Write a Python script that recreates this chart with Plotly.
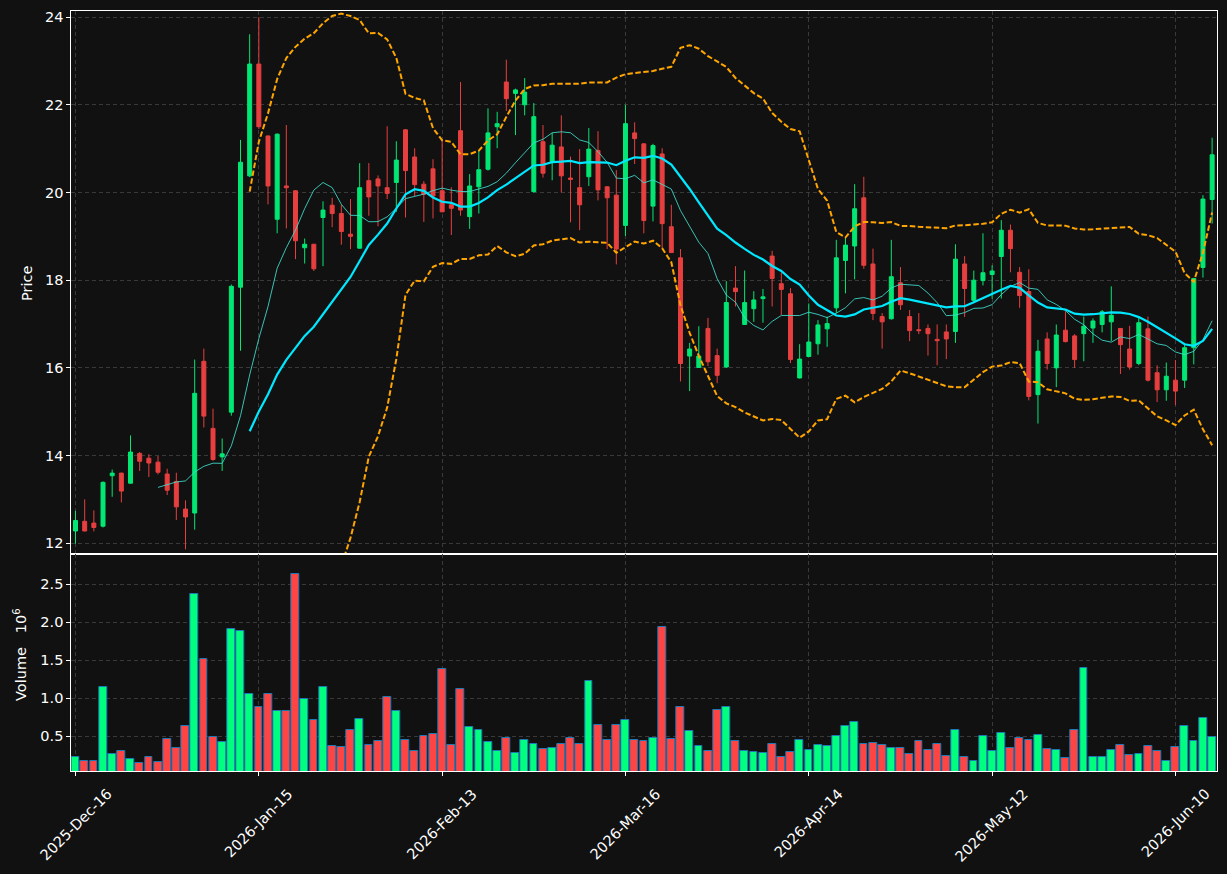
import pandas as pd
import plotly.graph_objects as go

# ---------------- data ----------------
tick_labels = ["2025-Dec-16", "2026-Jan-15", "2026-Feb-13", "2026-Mar-16",
               "2026-Apr-14", "2026-May-12", "2026-Jun-10"]

opens = [12.28, 12.50, 12.46, 12.39, 13.54, 13.60, 13.37, 14.05, 13.94, 13.85,
         13.58, 13.41, 12.78, 12.69, 16.15, 14.62, 13.97, 14.99, 17.84, 20.38,
         22.93, 21.29, 19.39, 20.15, 20.04, 18.74, 18.82, 19.43, 19.71, 19.52,
         19.05, 18.73, 20.27, 20.31, 20.11, 20.23, 21.43, 20.81, 20.19, 20.54,
         20.04, 19.72, 21.41, 19.45, 20.13, 20.53, 21.50, 22.52, 22.26, 22.00,
         20.02, 21.16, 20.71, 21.04, 20.33, 20.11, 20.36, 20.96, 20.13, 19.94,
         19.25, 21.36, 21.11, 19.69, 20.88, 19.22, 18.51, 16.27, 16.01, 16.90,
         16.28, 16.02, 17.82, 16.99, 17.35, 17.58, 18.55, 17.92, 17.69, 15.77,
         16.26, 16.55, 16.89, 17.37, 18.45, 18.78, 19.88, 18.37, 17.17, 17.12,
         17.94, 17.17, 16.87, 16.90, 16.65, 16.82, 16.83, 18.37, 17.54, 17.99,
         18.13, 18.54, 19.14, 18.18, 17.74, 15.39, 16.66, 16.00, 16.86, 16.73,
         16.78, 16.91, 16.99, 17.05, 16.90, 16.43, 16.10, 16.89, 15.89, 15.50,
         15.72, 15.72, 16.46, 18.29, 19.84]

highs = [12.74, 13.00, 12.75, 13.41, 13.68, 13.61, 14.46, 14.08, 14.03, 13.99,
         13.70, 13.61, 12.98, 16.19, 16.44, 15.07, 14.39, 17.90, 21.20, 23.61,
         24.00, 21.30, 21.35, 21.54, 20.05, 18.95, 18.83, 19.80, 19.88, 19.72,
         19.85, 20.67, 20.67, 20.39, 21.51, 21.17, 21.45, 21.01, 20.26, 20.76,
         21.21, 20.12, 22.52, 20.42, 20.97, 21.92, 21.84, 23.03, 22.37, 22.61,
         22.04, 21.54, 21.36, 21.76, 20.82, 20.99, 21.47, 21.40, 20.14, 20.51,
         22.00, 21.60, 21.12, 21.11, 21.01, 19.72, 18.71, 16.57, 16.95, 17.14,
         16.44, 17.98, 18.32, 18.22, 17.75, 17.80, 18.67, 18.18, 17.82, 16.54,
         17.47, 17.09, 17.17, 18.92, 18.99, 20.19, 20.36, 18.72, 17.25, 18.92,
         18.30, 17.32, 17.25, 16.99, 16.99, 16.99, 18.82, 18.55, 18.22, 19.07,
         18.34, 19.37, 19.27, 18.30, 18.25, 16.64, 16.81, 16.99, 17.29, 16.77,
         17.17, 17.13, 17.32, 17.86, 16.91, 16.96, 17.17, 17.17, 16.06, 16.12,
         16.18, 16.57, 18.05, 19.94, 21.25]

lows = [11.99, 12.27, 12.27, 12.36, 13.06, 12.93, 13.36, 13.65, 13.51, 13.57,
        13.10, 12.53, 11.86, 12.31, 14.64, 13.88, 13.65, 14.91, 16.39, 20.35,
        21.45, 19.73, 19.07, 19.18, 18.48, 18.38, 18.21, 18.32, 19.21, 18.81,
        18.71, 18.72, 19.47, 19.23, 19.85, 19.56, 19.43, 19.92, 19.33, 19.41,
        19.55, 19.03, 19.47, 19.17, 19.52, 20.50, 21.01, 21.86, 21.31, 21.76,
        20.00, 20.34, 20.28, 20.00, 19.32, 19.14, 20.15, 19.82, 18.71, 18.36,
        19.01, 20.65, 19.07, 19.34, 18.71, 18.62, 15.69, 15.47, 16.00, 16.04,
        15.65, 16.00, 17.40, 16.98, 17.05, 17.03, 17.40, 17.21, 16.11, 15.76,
        16.25, 16.30, 16.48, 17.25, 17.70, 18.02, 18.26, 17.09, 16.44, 17.10,
        17.32, 16.61, 16.77, 16.28, 16.06, 16.20, 16.57, 17.16, 17.49, 17.88,
        17.58, 17.58, 18.18, 17.37, 15.26, 14.73, 15.96, 15.56, 16.58, 16.00,
        16.15, 16.57, 16.81, 16.61, 15.86, 15.96, 16.06, 15.69, 15.22, 15.25,
        15.15, 15.54, 16.08, 18.06, 19.29]

closes = [12.52, 12.28, 12.36, 13.39, 13.60, 13.19, 14.08, 13.87, 13.83, 13.62,
          13.21, 12.83, 12.60, 15.42, 14.90, 13.91, 14.04, 17.86, 20.69, 22.93,
          21.50, 20.15, 21.33, 20.11, 18.90, 18.82, 18.26, 19.60, 19.52, 19.11,
          19.00, 20.11, 19.90, 20.15, 19.98, 20.74, 20.50, 20.18, 19.96, 19.92,
          19.56, 19.64, 19.60, 20.15, 20.52, 21.36, 21.57, 22.14, 22.34, 22.29,
          21.73, 20.44, 21.08, 20.38, 20.30, 19.72, 20.99, 20.06, 19.88, 18.71,
          21.57, 21.23, 19.36, 21.07, 19.29, 18.63, 16.10, 16.43, 16.27, 16.14,
          15.83, 17.49, 17.74, 17.49, 17.55, 17.62, 18.04, 17.79, 16.19, 16.20,
          16.59, 16.98, 17.01, 18.51, 18.80, 19.63, 18.34, 17.24, 17.05, 18.08,
          17.44, 16.85, 16.85, 16.78, 16.62, 16.66, 18.48, 17.81, 18.00, 18.17,
          18.21, 19.14, 18.72, 17.65, 15.35, 16.38, 16.10, 16.75, 16.60, 16.19,
          16.95, 17.07, 17.28, 17.20, 16.53, 16.02, 17.03, 15.72, 15.50, 15.81,
          15.47, 16.46, 18.04, 19.85, 20.86]

volumes = [0.224, 0.171, 0.171, 1.145, 0.263, 0.303, 0.197, 0.145, 0.224, 0.158,
           0.461, 0.342, 0.632, 2.368, 1.513, 0.496, 0.421, 1.908, 1.882, 1.053,
           0.882, 1.053, 0.829, 0.829, 2.632, 0.987, 0.711, 1.145, 0.368, 0.355,
           0.579, 0.724, 0.382, 0.434, 1.013, 0.829, 0.447, 0.303, 0.500, 0.526,
           1.382, 0.382, 1.118, 0.618, 0.579, 0.421, 0.303, 0.474, 0.276, 0.447,
           0.395, 0.329, 0.342, 0.395, 0.474, 0.395, 1.224, 0.645, 0.447, 0.645,
           0.711, 0.447, 0.434, 0.474, 1.934, 0.461, 0.882, 0.566, 0.368, 0.303,
           0.842, 0.882, 0.434, 0.303, 0.289, 0.276, 0.395, 0.224, 0.289, 0.447,
           0.316, 0.382, 0.368, 0.500, 0.632, 0.684, 0.395, 0.408, 0.382, 0.342,
           0.342, 0.263, 0.434, 0.316, 0.395, 0.237, 0.579, 0.224, 0.171, 0.500,
           0.303, 0.539, 0.342, 0.474, 0.447, 0.513, 0.329, 0.316, 0.211, 0.579,
           1.395, 0.224, 0.224, 0.316, 0.382, 0.250, 0.263, 0.368, 0.303, 0.171,
           0.355, 0.632, 0.434, 0.737, 0.487]

# ---------------- derived ----------------
x = list(range(len(closes)))
cs = pd.Series(closes)
ma10 = cs.rolling(10).mean()
ma20 = cs.rolling(20).mean()
sd20 = cs.rolling(20).std(ddof=0)
upper = ma20 + 2 * sd20
lower = ma20 - 2 * sd20


def clean(s):
    return [None if pd.isna(v) else float(v) for v in s]


BG = "#111111"
UP_C = "#02e774"
DN_C = "#e73f3f"
UP_V = "#00ff7f"
DN_V = "#ff4444"
GRID = "#3a3a3a"
FONT = "DejaVu Sans"
FS = 14.5

vol_colors = [UP_V if c >= o else DN_V for o, c in zip(opens, closes)]
tickvals = [x[i] for i in range(0, len(x), 20)]

fig = go.Figure()
fig.add_trace(go.Candlestick(
    x=x, open=opens, high=highs, low=lows, close=closes,
    increasing=dict(line=dict(color=UP_C, width=1), fillcolor=UP_C),
    decreasing=dict(line=dict(color=DN_C, width=1), fillcolor=DN_C),
    whiskerwidth=0, xaxis="x", yaxis="y", showlegend=False, name="Price"))

fig.add_trace(go.Scatter(x=x, y=clean(upper), mode="lines", xaxis="x", yaxis="y",
                         line=dict(color="#ffa500", width=2, dash="5.5px,2.5px"),
                         showlegend=False, name="BB upper"))
fig.add_trace(go.Scatter(x=x, y=clean(lower), mode="lines", xaxis="x", yaxis="y",
                         line=dict(color="#ffa500", width=2, dash="5.5px,2.5px"),
                         showlegend=False, name="BB lower"))
fig.add_trace(go.Scatter(x=x, y=clean(ma10), mode="lines", xaxis="x", yaxis="y",
                         line=dict(color="rgba(64,224,208,0.85)", width=1),
                         showlegend=False, name="MA10"))
fig.add_trace(go.Scatter(x=x, y=clean(ma20), mode="lines", xaxis="x", yaxis="y",
                         line=dict(color="#00e8ff", width=2.2),
                         showlegend=False, name="MA20"))

fig.add_trace(go.Bar(x=x, y=volumes, xaxis="x2", yaxis="y2", width=0.85,
                     marker=dict(color=vol_colors, line=dict(color="#1f77b4", width=1)),
                     showlegend=False, name="Volume"))

W, H = 1227, 874
xdom = [71.3 / W, 1216.7 / W]
ydom_p = [1 - 554 / H, 1 - 11 / H]
ydom_v = [1 - 771 / H, 1 - 554 / H]

axis_common = dict(showline=True, linecolor="white", linewidth=1, mirror=True,
                   gridcolor=GRID, griddash="4px,3px", gridwidth=1, zeroline=False,
                   automargin=False,
                   tickfont=dict(color="white", size=FS, family=FONT))

# rotated date labels centred under their ticks (as annotations)
date_annotations = [
    dict(text=lab, x=tv, y=1 - 783 / H, xref="x2", yref="paper",
         xanchor="center", yanchor="top", textangle=-45, showarrow=False,
         font=dict(size=FS, color="white", family=FONT))
    for tv, lab in zip(tickvals, tick_labels)
]

NB = "\u00a0"
fig.update_layout(
    width=W, height=H, margin=dict(l=0, r=0, t=0, b=0, pad=0),
    paper_bgcolor=BG, plot_bgcolor=BG,
    font=dict(family=FONT, color="white", size=FS),
    boxgap=0.38, boxgroupgap=0.3,
    bargap=0,
    xaxis=dict(domain=xdom, anchor="y", range=[-0.46, 124.5], tickvals=tickvals,
               showticklabels=False, ticks="", rangeslider=dict(visible=False),
               **axis_common),
    xaxis2=dict(domain=xdom, anchor="y2", matches="x", range=[-0.46, 124.5],
                tickvals=tickvals, showticklabels=False,
                ticks="outside", ticklen=4, tickcolor="white", **axis_common),
    yaxis=dict(domain=ydom_p, anchor="x", range=[11.755, 24.14], tick0=12, dtick=2,
               ticks="outside", ticklen=4, tickcolor="white", **axis_common),
    yaxis2=dict(domain=ydom_v, anchor="x2", range=[0.043, 2.9],
                tickvals=[0.5, 1.0, 1.5, 2.0, 2.5],
                ticktext=["0.5", "1.0", "1.5", "2.0", "2.5"],
                ticks="outside", ticklen=4, tickcolor="white", **axis_common),
    annotations=[
        dict(text="Price", x=27 / W, y=1 - 284 / H, xref="paper", yref="paper",
             xanchor="center", yanchor="middle",
             textangle=-90, showarrow=False, font=dict(size=FS, color="white", family=FONT)),
        dict(text="Volume" + NB * 3 + "10<sup>6</sup>", x=20 / W, y=1 - 655 / H,
             xref="paper", yref="paper", xanchor="center", yanchor="middle",
             textangle=-90, showarrow=False, font=dict(size=FS, color="white", family=FONT)),
    ] + date_annotations,
)

post = ("document.documentElement.style.margin='0';"
        "document.body.style.margin='0';"
        "document.body.style.padding='0';"
        "document.body.style.background='#111111';"
        "document.body.style.overflow='hidden';")
fig.write_html("out.html", post_script=post, config={"displayModeBar": False})
